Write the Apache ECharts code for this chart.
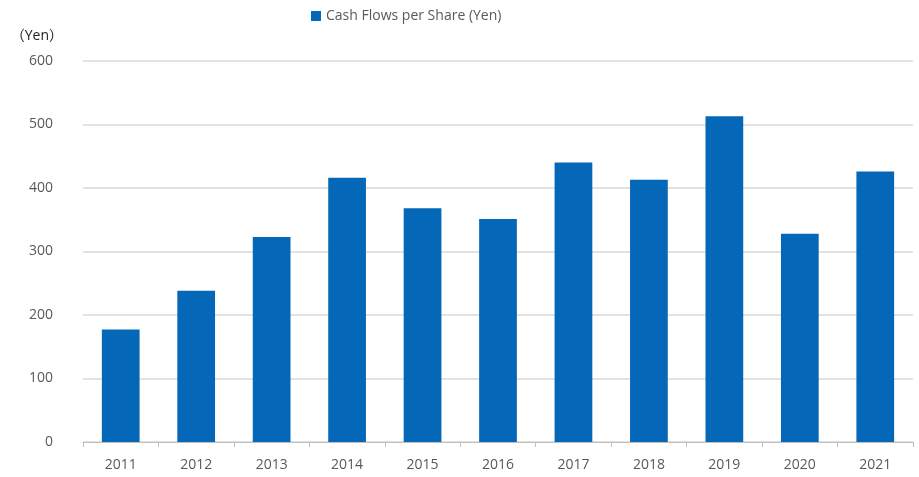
<!DOCTYPE html>
<html>
<head>
<meta charset="utf-8">
<script src="https://cdn.jsdelivr.net/npm/echarts@6/dist/echarts.min.js"></script>
<style>
  html, body { margin: 0; padding: 0; background: #fff; }
  #main { width: 919px; height: 477px; }
</style>
</head>
<body>
<div id="main"></div>
<script>
var years = ['2011', '2012', '2013', '2014', '2015', '2016', '2017', '2018', '2019', '2020', '2021'];
var cashFlows = [177, 238, 323, 416, 368, 351, 440, 413, 513, 328, 426];
var seriesName = 'Cash Flows per Share (Yen)';

(function(){
    var chart = echarts.init(document.getElementById('main'));
    var labelColor = '#595959';
    var option = {
        animation: false,
        textStyle: { fontFamily: 'Open Sans, Noto Sans, sans-serif' },
        legend: {
            top: 4,
            left: 306,
            icon: 'rect',
            itemWidth: 10,
            itemHeight: 10,
            itemGap: 8,
            data: [seriesName],
            textStyle: { color: labelColor, fontSize: 14 }
        },
        grid: {
            left: 83,
            right: 6,
            top: 61,
            bottom: 35
        },
        xAxis: {
            type: 'category',
            data: years,
            axisLine: { lineStyle: { color: '#bfbfbf', width: 1 } },
            axisTick: { show: true, length: 5, lineStyle: { color: '#bfbfbf' } },
            axisLabel: { color: labelColor, fontSize: 14, margin: 16 }
        },
        yAxis: {
            type: 'value',
            min: 0,
            max: 600,
            interval: 100,
            name: '（Yen）',
            nameLocation: 'end',
            nameGap: 18,
            nameTextStyle: {
                color: '#222', fontSize: 14, align: 'right', padding: [0, 20, 0, 0],
                fontFamily: 'Open Sans, Noto Sans CJK JP, sans-serif'
            },
            axisLine: { show: false },
            axisTick: { show: false },
            axisLabel: { color: labelColor, fontSize: 14, margin: 30 },
            splitLine: { lineStyle: { color: '#d9d9d9', width: 1.5 } }
        },
        series: [{
            name: seriesName,
            type: 'bar',
            data: cashFlows,
            barCategoryGap: '50%',
            itemStyle: { color: '#0567b7' }
        }]
    };
    chart.setOption(option);
})();
</script>
</body>
</html>
